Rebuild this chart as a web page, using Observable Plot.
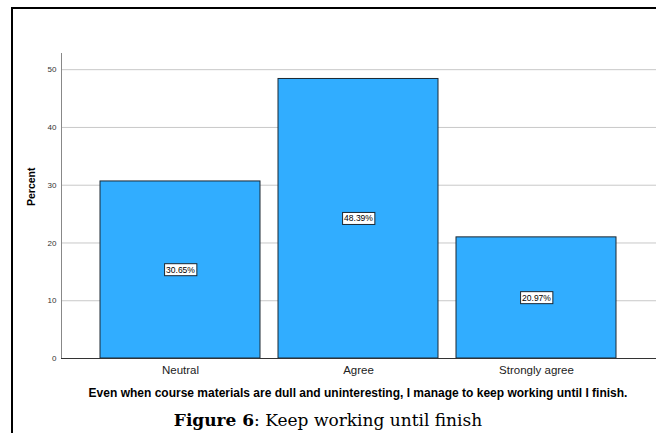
<!DOCTYPE html>
<html>
<head>
<meta charset="utf-8">
<script src="https://cdn.jsdelivr.net/npm/d3@7"></script>
<script src="https://cdn.jsdelivr.net/npm/@observablehq/plot@0.6"></script>
<style>
  html, body { margin: 0; padding: 0; background: #fff; }
  body { width: 656px; height: 433px; overflow: hidden; position: relative; }
  #frame {
    position: absolute; left: 11px; top: 7px; width: 700px; height: 500px;
    border-left: 2px solid #000; border-top: 2px solid #000; box-sizing: border-box;
  }
  #chart { position: absolute; left: 0; top: 0; }
  #xtitle {
    position: absolute; left: 0; width: 716px; top: 386px; text-align: center;
    font: bold 12px "Liberation Sans", Arial, sans-serif; color: #000;
  }
  #caption {
    position: absolute; left: 0; width: 656px; top: 410px; text-align: center;
    font: 17px "DejaVu Serif", "Liberation Serif", serif; color: #000;
  }
</style>
</head>
<body>
<div id="frame"></div>
<div id="chart"></div>
<div id="xtitle">Even when course materials are dull and uninteresting, I manage to keep working until I finish.</div>
<div id="caption"><b>Figure 6</b>: Keep working until finish</div>
<script>
// Response categories and their share of respondents (percent)
const categories = ["Neutral", "Agree", "Strongly agree"];
const percents = [30.65, 48.39, 20.97];
const yTicks = [0, 10, 20, 30, 40, 50];

const data = categories.map((c, i) => ({category: c, percent: percents[i]}));

const chart = Plot.plot({
  width: 656,
  height: 380,
  marginTop: 53,
  marginBottom: 22,
  marginLeft: 61,
  marginRight: 0,
  style: {background: "transparent", fontFamily: "'Liberation Sans', Arial, sans-serif"},
  x: {domain: categories, paddingInner: 0.101, paddingOuter: 0.219, label: null},
  y: {domain: [0, 52.8], label: null},
  marks: [
    Plot.gridY(yTicks.filter(t => t > 0), {stroke: "#c8c8c8", strokeOpacity: 1}),
    Plot.frame({anchor: "left", stroke: "#888"}),
    Plot.barY(data, {x: "category", y: "percent", fill: "#31adff", stroke: "#1c2833", strokeWidth: 1}),
    Plot.ruleY([0], {stroke: "#333"}),
    Plot.axisY({ticks: yTicks, tickSize: 0, tickPadding: 5, fontSize: 8, fill: "#333", label: null}),
    Plot.axisX({tickSize: 0, tickPadding: 7, fontSize: 11.5, fill: "#222", label: null}),
    Plot.text(data, {
      x: "category",
      y: d => d.percent / 2,
      text: d => d.percent.toFixed(2) + "%",
      fontSize: 8.5,
      fill: "#000"
    }),
    Plot.text(["Percent"], {
      frameAnchor: "left", dx: -30, rotate: -90, fontWeight: "bold", fontSize: 10.5, fill: "#000"
    })
  ]
});

document.getElementById("chart").appendChild(chart);

// Draw a white box with a dark outline behind each value label
d3.select(chart).selectAll('g[aria-label="text"] text').each(function () {
  const t = d3.select(this);
  if (t.text() === "Percent") return;
  const bb = this.getBBox();
  const g = d3.select(this.parentNode);
  g.insert("rect", () => this)
    .attr("x", bb.x - 1.5)
    .attr("y", bb.y - 1)
    .attr("width", bb.width + 3)
    .attr("height", bb.height + 2)
    .attr("transform", t.attr("transform"))
    .attr("fill", "#fff")
    .attr("stroke", "#1c2833")
    .attr("stroke-width", 1);
});
</script>
</body>
</html>
